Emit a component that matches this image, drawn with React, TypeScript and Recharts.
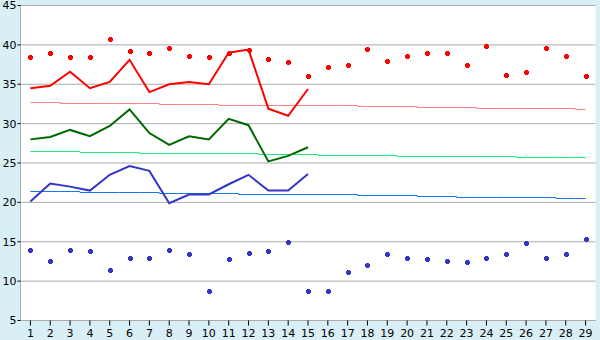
import React from 'react';
import { LineChart, Line, XAxis, YAxis, CartesianGrid } from 'recharts';

const days = ['1','2','3','4','5','6','7','8','9','10','11','12','13','14','15','16','17','18','19','20','21','22','23','24','25','26','27','28','29'];

const redLine = [34.5, 34.8, 36.6, 34.5, 35.3, 38.1, 34.0, 35.0, 35.3, 35.0, 39.0, 39.4, 31.9, 31.0, 34.4];
const greenLine = [28.0, 28.3, 29.2, 28.4, 29.7, 31.8, 28.8, 27.3, 28.4, 28.0, 30.6, 29.8, 25.2, 25.9, 27.0];
const blueLine = [20.1, 22.4, 22.0, 21.5, 23.5, 24.6, 24.0, 19.9, 21.0, 21.0, 22.3, 23.5, 21.5, 21.5, 23.6];

const redDots = [38.4, 39.0, 38.4, 38.4, 40.8, 39.2, 39.0, 39.6, 38.6, 38.5, 39.0, 39.4, 38.2, 37.8, 36.1, 37.2, 37.5, 39.5, 38.0, 38.6, 39.0, 39.0, 37.5, 39.9, 36.2, 36.6, 39.6, 38.6, 36.1];
const blueDots = [14.0, 12.6, 14.0, 13.8, 11.4, 13.0, 13.0, 14.0, 13.5, 8.8, 12.8, 13.6, 13.8, 15.0, 8.8, 8.8, 11.1, 12.1, 13.5, 13.0, 12.8, 12.6, 12.4, 13.0, 13.5, 14.9, 13.0, 13.5, 15.4];

const pinkTrend = [32.683, 32.683, 32.556, 32.556, 32.556, 32.556, 32.556, 32.429, 32.429, 32.429, 32.302, 32.302, 32.302, 32.302, 32.302, 32.302, 32.302, 32.175, 32.175, 32.175, 32.048, 32.048, 32.048, 31.921, 31.921, 31.921, 31.921, 31.921, 31.794];
const greenTrend = [26.46, 26.46, 26.46, 26.333, 26.333, 26.333, 26.206, 26.206, 26.206, 26.206, 26.206, 26.206, 26.079, 26.079, 26.079, 25.952, 25.952, 25.952, 25.952, 25.825, 25.825, 25.825, 25.825, 25.825, 25.825, 25.698, 25.698, 25.698, 25.698];
const blueTrend = [21.381, 21.381, 21.381, 21.254, 21.254, 21.254, 21.254, 21.127, 21.127, 21.127, 21.127, 21.0, 21.0, 21.0, 21.0, 21.0, 21.0, 20.873, 20.873, 20.873, 20.746, 20.746, 20.619, 20.619, 20.619, 20.619, 20.619, 20.492, 20.492];

const yTicks = [5, 10, 15, 20, 25, 30, 35, 40, 45];

const data = days.map((d, i) => ({
  day: d,
  redLine: i < redLine.length ? redLine[i] : null,
  greenLine: i < greenLine.length ? greenLine[i] : null,
  blueLine: i < blueLine.length ? blueLine[i] : null,
  redDots: redDots[i],
  blueDots: blueDots[i],
  pinkTrend: pinkTrend[i],
  greenTrend: greenTrend[i],
  blueTrend: blueTrend[i],
}));

const makePlus = (color: string) => (props: any) => {
  const { cx, cy, key, index } = props;
  const k = key ?? `p-${index}`;
  if (cx == null || cy == null || isNaN(cx) || isNaN(cy)) return <g key={k} />;
  const x = Math.round(cx);
  const y = Math.round(cy);
  const d = `M${x - 2.5},${y - 1.5} h5 v3 h-5 z M${x - 1.5},${y - 2.5} h3 v5 h-3 z`;
  return <path key={k} d={d} fill={color} stroke="none" shapeRendering="crispEdges" />;
};

const GRID = '#ababab';
const FONT = { fontFamily: '"DejaVu Sans", Verdana, sans-serif', fontSize: 11, fill: '#000' };
const HALF_BAND = 575 / 29 / 2;

export default function App() {
  return (
    <div style={{ position: 'absolute', left: 0, top: 0, width: 600, height: 340, background: '#d9eff6' }}>
      <LineChart width={600} height={340} data={data} margin={{ top: 5.5, right: 4.5, left: 0, bottom: 0 }}>
        <CartesianGrid vertical={false} stroke={GRID} fill="#ffffff" fillOpacity={1} yAxisId="l" />
        <XAxis
          dataKey="day"
          height={19.5}
          interval={0}
          padding={{ left: HALF_BAND, right: HALF_BAND }}
          tickSize={5}
          tickMargin={4}
          stroke={GRID}
          tick={FONT}
          tickLine={{ stroke: '#000' }}
          axisLine={{ stroke: GRID }}
        />
        <YAxis
          yAxisId="l"
          width={20.5}
          domain={[5, 45]}
          ticks={yTicks}
          interval={0}
          tickSize={3}
          tickMargin={1}
          tick={FONT}
          tickLine={{ stroke: '#000' }}
          axisLine={{ stroke: GRID }}
          allowDataOverflow
        />
        <YAxis
          yAxisId="r"
          orientation="right"
          width={0}
          domain={[5, 45]}
          ticks={yTicks}
          tick={false}
          tickLine={false}
          axisLine={{ stroke: GRID }}
        />
        <Line yAxisId="l" dataKey="pinkTrend" type="step" stroke="#ff8080" strokeWidth={1} dot={false} isAnimationActive={false} />
        <Line yAxisId="l" dataKey="greenTrend" type="step" stroke="#14ee7a" strokeWidth={1} dot={false} isAnimationActive={false} />
        <Line yAxisId="l" dataKey="blueTrend" type="step" stroke="#1478e6" strokeWidth={1} dot={false} isAnimationActive={false} />
        <Line yAxisId="l" dataKey="redLine" type="linear" stroke="#ff0000" strokeWidth={2} dot={false} isAnimationActive={false} />
        <Line yAxisId="l" dataKey="greenLine" type="linear" stroke="#006600" strokeWidth={2} dot={false} isAnimationActive={false} />
        <Line yAxisId="l" dataKey="blueLine" type="linear" stroke="#3535c8" strokeWidth={2} dot={false} isAnimationActive={false} />
        <Line yAxisId="l" dataKey="redDots" stroke="none" dot={makePlus('#ff0000')} activeDot={false} isAnimationActive={false} />
        <Line yAxisId="l" dataKey="blueDots" stroke="none" dot={makePlus('#3535c8')} activeDot={false} isAnimationActive={false} />
      </LineChart>
    </div>
  );
}
